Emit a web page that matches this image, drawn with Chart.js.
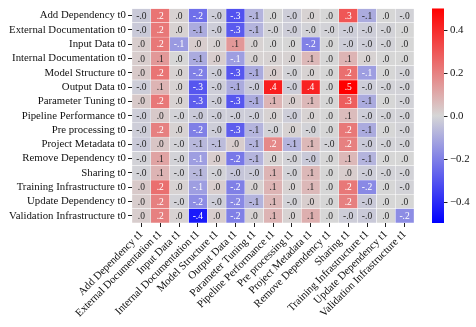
<!DOCTYPE html>
<html>
<head>
<meta charset="utf-8">
<script src="https://cdn.jsdelivr.net/npm/chart.js@4/dist/chart.umd.min.js"></script>
<style>
  body { margin: 0; background: #fff; }
</style>
</head>
<body>
<canvas id="heatmap" width="476" height="327"></canvas>
<script>
const rowLabels = [
    "Add Dependency t0", "External Documentation t0", "Input Data t0", "Internal Documentation t0",
    "Model Structure t0", "Output Data t0", "Parameter Tuning t0", "Pipeline Performance t0",
    "Pre processing t0", "Project Metadata t0", "Remove Dependency t0", "Sharing t0",
    "Training Infrastructure t0", "Update Dependency t0", "Validation Infrastructure t0"
];

const colLabels = [
    "Add Dependency t1", "External Documentation t1", "Input Data t1", "Internal Documentation t1",
    "Model Structure t1", "Output Data t1", "Parameter Tuning t1", "Pipeline Performance t1",
    "Pre processing t1", "Project Metadata t1", "Remove Dependency t1", "Sharing t1",
    "Training Infrastructure t1", "Update Dependency t1", "Validation Infrastructure t1"
];

// one row per t0 category, one value per t1 category
const values = [
    [-0.03, 0.23, 0.01, -0.24, -0.02, -0.31, -0.08, 0.00, -0.02, 0.01, 0.00, 0.30, -0.10, 0.00, -0.01],
    [-0.03, 0.22, 0.01, -0.10, -0.02, -0.29, -0.08, -0.01, -0.02, -0.01, -0.01, -0.02, -0.02, -0.01, 0.00],
    [0.02, 0.22, -0.14, 0.02, 0.01, 0.145, 0.01, 0.00, 0.00, -0.20, 0.00, -0.02, -0.02, -0.01, 0.00],
    [0.02, 0.145, 0.00, -0.10, 0.02, -0.13, 0.01, 0.01, 0.01, 0.07, 0.00, 0.08, 0.01, 0.00, 0.00],
    [0.03, 0.23, 0.01, -0.20, -0.02, -0.30, -0.10, 0.02, -0.01, 0.01, 0.00, 0.24, -0.13, 0.00, -0.01],
    [-0.02, 0.08, 0.01, -0.30, -0.02, -0.10, -0.03, 0.43, -0.02, 0.42, 0.00, 0.50, -0.02, -0.01, -0.01],
    [0.03, 0.22, 0.01, -0.28, -0.02, -0.30, -0.10, 0.08, 0.02, 0.07, 0.00, 0.28, -0.10, 0.00, -0.01],
    [-0.02, 0.03, -0.01, -0.03, -0.02, -0.02, -0.02, 0.01, -0.02, 0.01, 0.00, 0.06, -0.02, -0.01, -0.01],
    [-0.02, 0.20, 0.01, -0.20, -0.02, -0.28, -0.08, -0.01, 0.01, -0.01, 0.00, 0.22, -0.10, 0.00, -0.01],
    [-0.03, 0.04, -0.01, -0.07, -0.06, 0.02, -0.08, 0.18, -0.08, 0.07, -0.01, 0.20, -0.03, -0.01, -0.01],
    [-0.01, 0.12, -0.01, -0.13, 0.02, -0.22, -0.08, 0.01, -0.01, -0.03, 0.00, 0.07, -0.08, 0.00, 0.00],
    [-0.01, 0.08, -0.01, -0.07, -0.01, -0.04, -0.03, 0.08, -0.01, 0.07, 0.00, 0.02, -0.02, -0.01, -0.01],
    [0.03, 0.24, 0.01, -0.13, 0.02, -0.20, 0.01, 0.08, 0.01, 0.07, 0.00, 0.22, -0.18, 0.00, -0.01],
    [0.02, 0.20, -0.01, -0.17, -0.02, -0.18, -0.08, 0.07, -0.01, 0.02, 0.00, 0.20, -0.03, 0.00, 0.00],
    [0.02, 0.20, 0.01, -0.44, 0.02, -0.20, 0.01, 0.08, 0.01, 0.09, 0.00, -0.02, -0.03, 0.00, -0.17]
];

const colorbarTicks = [-0.4, -0.2, 0.0, 0.2, 0.4];
const vmin = -0.5;
const vmax = 0.5;

const FONT = "'Liberation Serif', 'Times New Roman', serif";
const MID = [214, 214, 214];

function cellRgb(v) {
    let t = Math.max(-1, Math.min(1, v / vmax));
    let end = t >= 0 ? [255, 0, 0] : [0, 0, 255];
    t = Math.abs(t);
    return MID.map((c, k) => Math.round(c + (end[k] - c) * t));
}

function cellColor(v) {
    const c = cellRgb(v);
    return `rgb(${c[0]},${c[1]},${c[2]})`;
}

// same rule seaborn uses to pick the annotation colour
function textColor(v) {
    const lin = cellRgb(v).map(c => {
        c = c / 255;
        return c <= 0.03928 ? c / 12.92 : Math.pow((c + 0.055) / 1.055, 2.4);
    });
    const lum = 0.2126 * lin[0] + 0.7152 * lin[1] + 0.0722 * lin[2];
    return lum > 0.408 ? "#262626" : "#ffffff";
}

function formatCell(v) {
    return (v < 0 ? "-" : "") + "." + Math.round(Math.abs(v) * 10);
}

const datasets = colLabels.map((label, j) => ({
    label: label,
    data: rowLabels.map(() => 1),
    backgroundColor: rowLabels.map((_, i) => cellColor(values[i][j])),
    borderColor: "#ffffff",
    borderWidth: 0.5,
    borderSkipped: false,
    barPercentage: 1,
    categoryPercentage: 1
}));

const cellText = {
    id: "cellText",
    afterDatasetsDraw(chart) {
        const ctx = chart.ctx;
        ctx.save();
        ctx.font = "9.5px " + FONT;
        ctx.textAlign = "center";
        ctx.textBaseline = "middle";
        colLabels.forEach((_, j) => {
            chart.getDatasetMeta(j).data.forEach((bar, i) => {
                const v = values[i][j];
                ctx.fillStyle = textColor(v);
                ctx.fillText(formatCell(v), (bar.x + bar.base) / 2, bar.y + 0.5);
            });
        });
        ctx.restore();
    }
};

// colour bar spans the same height as the heatmap, vmax at top, vmin at bottom
const colorbar = {
    id: "colorbar",
    afterDraw(chart) {
        const area = chart.chartArea;
        const ctx = chart.ctx;
        const x0 = 432, w = 12;
        const top = area.top, bottom = area.bottom;
        const toPixel = (v) => bottom - (v - vmin) / (vmax - vmin) * (bottom - top);
        const grad = ctx.createLinearGradient(0, top, 0, bottom);
        grad.addColorStop(0, cellColor(vmax));
        grad.addColorStop(0.5, cellColor(0));
        grad.addColorStop(1, cellColor(vmin));
        ctx.save();
        ctx.fillStyle = grad;
        ctx.fillRect(x0, top, w, bottom - top);
        ctx.strokeStyle = "#222";
        ctx.lineWidth = 1;
        ctx.fillStyle = "#111";
        ctx.font = "10.8px " + FONT;
        ctx.textAlign = "left";
        ctx.textBaseline = "middle";
        colorbarTicks.forEach(t => {
            const y = Math.round(toPixel(t)) + 0.5;
            ctx.beginPath();
            ctx.moveTo(x0 + w, y);
            ctx.lineTo(x0 + w + 3.5, y);
            ctx.stroke();
            const txt = (t < 0 ? "\u2212" : "") + Math.abs(t).toFixed(1);
            ctx.fillText(txt, x0 + w + 6, y);
        });
        ctx.restore();
    }
};

new Chart(document.getElementById("heatmap"), {
    type: "bar",
    data: { labels: rowLabels, datasets: datasets },
    options: {
        indexAxis: "y",
        responsive: false,
        animation: false,
        events: [],
        layout: { padding: { top: 6, right: 62, left: 0, bottom: 0 } },
        plugins: { legend: { display: false }, tooltip: { enabled: false } },
        scales: {
            x: {
                type: "linear",
                stacked: true,
                min: 0,
                max: colLabels.length,
                afterBuildTicks: (axis) => {
                    axis.ticks = colLabels.map((_, j) => ({ value: j + 0.5 }));
                },
                afterFit: (axis) => { axis.height = 104; },
                border: { display: false },
                grid: { drawOnChartArea: false, drawTicks: true, tickLength: 4, tickColor: "#222" },
                ticks: {
                    autoSkip: false,
                    minRotation: 45,
                    maxRotation: 45,
                    padding: 1,
                    color: "#111",
                    font: { family: FONT, size: 10.8 },
                    callback: (value, index) => colLabels[index]
                }
            },
            y: {
                stacked: true,
                afterFit: (axis) => { axis.width = 132; },
                border: { display: false },
                grid: { offset: false, drawOnChartArea: false, drawTicks: true, tickLength: 4, tickColor: "#222" },
                ticks: {
                    autoSkip: false,
                    padding: 2,
                    color: "#111",
                    font: { family: FONT, size: 10.8 }
                }
            }
        }
    },
    plugins: [cellText, colorbar]
});
</script>
</body>
</html>
